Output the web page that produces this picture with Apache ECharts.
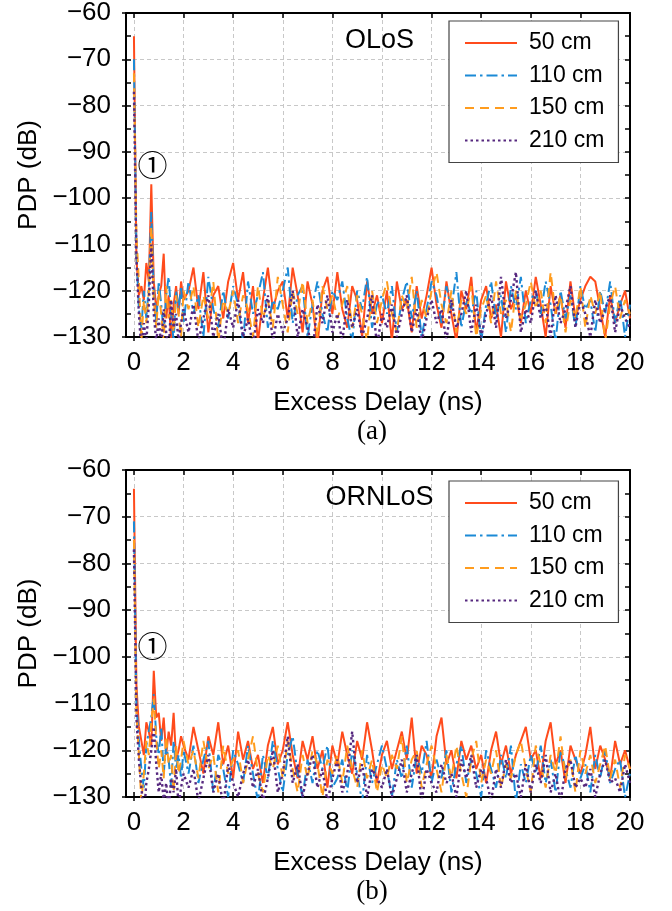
<!DOCTYPE html>
<html>
<head>
<meta charset="utf-8">
<script src="https://cdn.jsdelivr.net/npm/echarts@6/dist/echarts.min.js"></script>
<style>
  html, body { margin: 0; padding: 0; background: #fff; }
  #chart { width: 672px; height: 911px; }
</style>
</head>
<body>
<div id="chart"></div>
<script>
// ---- data ----
const seriesNames = ['50 cm', '110 cm', '150 cm', '210 cm'];
const xTicks = [0, 2, 4, 6, 8, 10, 12, 14, 16, 18, 20];
const panelLabels = ['OLoS', 'ORNLoS'];
const captions = ['(a)', '(b)'];

// sample delays (ns): 0.1 ns steps up to 2 ns, then 0.2 ns steps to 20 ns
const delayNs = [];
for (let i = 0; i <= 20; i++) delayNs.push(+(i * 0.1).toFixed(1));
for (let i = 1; i <= 90; i++) delayNs.push(+(2 + i * 0.2).toFixed(1));

// (a) OLoS PDP (dB)
const olos50 = [
  -65, -113, -121, -119, -122, -114, -118, -97, -118, -124, -121, -119, -112, -126, -121, -131, -123, -119, -125, -118, -122,
  -120, -115, -124, -116, -129, -121, -119, -126, -118, -114,
  -122, -116, -127, -119, -131, -122, -115, -124, -120, -118,
  -126, -115, -121, -129, -118, -123, -132, -120, -117, -125,
  -116, -124, -128, -119, -122, -130, -118, -125, -121, -127,
  -120, -131, -118, -124, -122, -129, -119, -126, -121, -115,
  -123, -128, -118, -125, -131, -120, -124, -117, -129, -122,
  -119, -126, -123, -130, -118, -124, -121, -127, -120, -125,
  -117, -123, -130, -119, -125, -121, -128, -118, -126, -122,
  -119, -117, -118, -124, -130, -121, -127, -123, -120, -126
];
const olos110 = [
  -70, -112, -124, -128, -120, -126, -119, -103, -120, -127, -118, -123, -129, -121, -117, -125, -131, -120, -124, -119, -127,
  -118, -125, -121, -130, -117, -124, -128, -120, -126, -119,
  -123, -131, -118, -125, -121, -116, -128, -122, -124, -120,
  -115, -127, -121, -119, -130, -123, -118, -125, -129, -120,
  -122, -118, -126, -131, -120, -124, -117, -128, -123, -121,
  -125, -119, -129, -122, -118, -126, -120, -130, -124, -118,
  -121, -127, -119, -124, -116, -128, -122, -125, -120, -131,
  -123, -118, -126, -121, -129, -119, -124, -117, -127, -122,
  -120, -125, -118, -123, -131, -120, -126, -121, -128, -119,
  -124, -122, -129, -120, -125, -118, -127, -121, -130, -123
];
const olos150 = [
  -73, -108, -118, -131, -122, -127, -120, -106, -122, -128, -120, -125, -131, -119, -126, -122, -129, -121, -125, -130, -120,
  -124, -119, -128, -121, -126, -118, -131, -122, -125, -120,
  -127, -121, -124, -130, -119, -126, -122, -128, -117, -123,
  -129, -120, -125, -118, -127, -122, -130, -119, -124, -121,
  -126, -123, -119, -128, -121, -125, -131, -120, -127, -122,
  -118, -125, -129, -121, -124, -117, -128, -122, -126, -120,
  -116, -123, -127, -120, -129, -122, -125, -119, -130, -124,
  -121, -127, -118, -125, -122, -129, -120, -126, -123, -118,
  -124, -120, -127, -116, -125, -121, -129, -122, -126, -119,
  -128, -121, -125, -120, -131, -123, -119, -126, -122, -125
];
const olos210 = [
  -77, -113, -125, -133, -127, -131, -123, -110, -125, -131, -126, -132, -124, -129, -134, -122, -128, -125, -131, -127, -124,
  -129, -123, -131, -126, -121, -130, -125, -133, -124, -128,
  -122, -130, -126, -132, -124, -127, -121, -131, -125, -129,
  -126, -120, -130, -124, -128, -133, -123, -127, -121, -129,
  -125, -131, -122, -128, -124, -130, -126, -121, -132, -125,
  -128, -123, -130, -125, -121, -129, -124, -131, -126, -122,
  -127, -124, -131, -122, -128, -125, -120, -129, -123, -130,
  -125, -121, -128, -117, -126, -122, -116, -129, -124, -127,
  -120, -126, -123, -130, -121, -127, -124, -119, -128, -122,
  -125, -130, -122, -127, -124, -121, -129, -123, -126, -128
];

// (b) ORNLoS PDP (dB)
const ornlos50 = [
  -64, -106, -115, -118, -121, -114, -116, -119, -103, -113, -112, -118, -113, -121, -116, -119, -112, -122, -120, -117, -119,
  -122, -115, -120, -125, -117, -121, -114, -123, -119, -126,
  -116, -122, -118, -124, -121, -127, -119, -115, -123, -120,
  -114, -121, -126, -118, -122, -117, -124, -120, -128, -119,
  -123, -116, -121, -125, -118, -122, -114, -120, -127, -121,
  -118, -124, -120, -116, -122, -113, -125, -119, -121, -126,
  -117, -113, -123, -120, -126, -118, -122, -119, -124, -121,
  -127, -120, -116, -123, -119, -125, -121, -118, -115, -122,
  -120, -126, -118, -114, -123, -120, -127, -119, -122, -125,
  -121, -115, -124, -119, -122, -126, -118, -123, -120, -124
];
const ornlos110 = [
  -71, -110, -118, -124, -128, -119, -116, -113, -108, -117, -121, -115, -125, -119, -122, -128, -118, -124, -121, -126, -120,
  -125, -119, -127, -122, -118, -129, -121, -124, -130, -120,
  -123, -127, -119, -125, -131, -121, -126, -118, -124, -129,
  -121, -117, -125, -130, -122, -127, -120, -124, -119, -128,
  -126, -122, -129, -120, -125, -131, -121, -127, -123, -119,
  -124, -130, -122, -126, -119, -128, -121, -125, -118, -127,
  -122, -126, -120, -129, -123, -119, -127, -122, -125, -130,
  -120, -124, -128, -121, -126, -119, -131, -123, -127, -121,
  -125, -119, -127, -122, -129, -120, -124, -128, -121, -126,
  -123, -129, -121, -126, -120, -127, -124, -122, -130, -125
];
const ornlos150 = [
  -75, -112, -121, -131, -125, -118, -121, -114, -109, -118, -124, -120, -126, -117, -123, -121, -129, -119, -125, -122, -118,
  -123, -120, -126, -118, -124, -121, -129, -119, -125, -122,
  -120, -127, -122, -117, -125, -129, -121, -124, -119, -126,
  -118, -124, -129, -121, -126, -120, -123, -130, -122, -125,
  -121, -127, -119, -124, -128, -120, -126, -122, -129, -123,
  -126, -121, -124, -117, -127, -122, -120, -128, -123, -119,
  -124, -129, -121, -126, -119, -125, -130, -122, -118, -127,
  -122, -125, -120, -128, -123, -126, -121, -118, -124, -129,
  -119, -123, -128, -121, -125, -117, -126, -122, -129, -120,
  -125, -121, -127, -123, -119, -126, -122, -128, -121, -124
];
const ornlos210 = [
  -77, -113, -122, -128, -134, -127, -124, -120, -115, -123, -129, -125, -131, -127, -133, -126, -129, -124, -132, -128, -125,
  -128, -124, -131, -126, -121, -129, -125, -132, -123, -127,
  -130, -125, -122, -128, -124, -131, -126, -120, -129, -125,
  -117, -127, -123, -130, -125, -121, -128, -124, -131, -126,
  -122, -129, -125, -116, -127, -123, -130, -124, -126, -128,
  -124, -130, -126, -122, -129, -125, -121, -131, -124, -127,
  -129, -123, -127, -125, -130, -122, -126, -121, -128, -124,
  -126, -131, -124, -128, -122, -127, -125, -130, -123, -129,
  -123, -127, -121, -129, -125, -131, -124, -122, -128, -126,
  -128, -124, -130, -125, -122, -127, -126, -129, -123, -127
];

// annotation anchors (data coordinates: ns, dB)
const markerPos = [[0.75, -92.8], [0.75, -97.5]];
const panelLabelPos = [[9.9, -66], [9.9, -66]];

// ---- chart ----
const panels = [
  [olos50, olos110, olos150, olos210],
  [ornlos50, ornlos110, ornlos150, ornlos210]
];
const colors = ['#ff4b1c', '#1b8ad6', '#ff9c1e', '#56287f'];
const dashes = ['solid', [11, 4, 2.5, 4], [9, 6], [2.5, 3]];
const widths = [2, 2, 2, 2.4];
const FONT = '"Liberation Sans", Arial, Helvetica, sans-serif';
const minus = v => String(v).replace('-', '\u2212');

const gridTops = [10, 470];
const grids = gridTops.map(t => ({ left: 126, width: 504, top: t, height: 327 }));

const xAxes = [], yAxes = [], series = [], legends = [];
gridTops.forEach((t, g) => {
  // main bottom axis
  xAxes.push({
    type: 'value', gridIndex: g, min: -0.32, max: 20, position: 'bottom',
    axisLine: { show: true, onZero: false, lineStyle: { color: '#000', width: 2 } },
    axisTick: { show: true, inside: false, length: 4, customValues: xTicks, lineStyle: { color: '#000', width: 1.5 } },
    axisLabel: { show: true, customValues: xTicks, margin: 13, color: '#000', fontSize: 26, fontFamily: FONT },
    splitLine: { show: true, lineStyle: { color: '#c8c8c8', type: [4, 3], width: 1 } },
    name: 'Excess Delay (ns)', nameLocation: 'middle', nameGap: 53,
    nameTextStyle: { color: '#000', fontSize: 26, fontFamily: FONT }
  });
  // inward ticks bottom
  xAxes.push({
    type: 'value', gridIndex: g, min: -0.32, max: 20, position: 'bottom',
    axisLine: { show: false, onZero: false },
    axisTick: { show: true, inside: true, length: 5, customValues: xTicks, lineStyle: { color: '#000', width: 1.5 } },
    axisLabel: { show: false }, splitLine: { show: false }
  });
  // top frame
  xAxes.push({
    type: 'value', gridIndex: g, min: -0.32, max: 20, position: 'top',
    axisLine: { show: true, onZero: false, lineStyle: { color: '#000', width: 2 } },
    axisTick: { show: true, inside: true, length: 5, customValues: xTicks, lineStyle: { color: '#000', width: 1.5 } },
    axisLabel: { show: false }, splitLine: { show: false }
  });
  yAxes.push({
    type: 'value', gridIndex: g, min: -130, max: -60, interval: 10, position: 'left',
    axisLine: { show: true, onZero: false, lineStyle: { color: '#000', width: 2 } },
    axisTick: { show: true, inside: false, length: 4, lineStyle: { color: '#000', width: 1.5 } },
    axisLabel: { margin: 15, color: '#000', fontSize: 26, fontFamily: FONT, formatter: minus },
    splitLine: { show: true, lineStyle: { color: '#c8c8c8', type: [4, 3], width: 1 } },
    name: 'PDP (dB)', nameLocation: 'middle', nameGap: 84,
    nameTextStyle: { color: '#000', fontSize: 26, fontFamily: FONT }
  });
  yAxes.push({
    type: 'value', gridIndex: g, min: -130, max: -60, interval: 10, position: 'left',
    axisLine: { show: false, onZero: false },
    axisTick: { show: true, inside: true, length: 5, lineStyle: { color: '#000', width: 1.5 } },
    minorTick: { show: true, splitNumber: 2, length: 5, lineStyle: { color: '#000', width: 1.5 } },
    axisLabel: { show: false }, splitLine: { show: false }
  });
  yAxes.push({
    type: 'value', gridIndex: g, min: -130, max: -60, interval: 10, position: 'right',
    axisLine: { show: true, onZero: false, lineStyle: { color: '#000', width: 2 } },
    axisTick: { show: true, inside: true, length: 5, lineStyle: { color: '#000', width: 1.5 } },
    minorTick: { show: true, splitNumber: 2, length: 5, lineStyle: { color: '#000', width: 1.5 } },
    axisLabel: { show: false }, splitLine: { show: false }
  });

  panels[g].forEach((vals, k) => {
    const s = {
      name: seriesNames[k], type: 'line', xAxisIndex: g * 3, yAxisIndex: g * 3,
      data: delayNs.map((d, i) => [d, vals[i]]),
      symbol: 'none', clip: true,
      lineStyle: { color: colors[k], width: widths[k], type: dashes[k] },
      itemStyle: { color: colors[k] },
      z: 2 + k
    };
    if (k === 0) {
      s.markPoint = {
        symbol: 'circle', symbolSize: 1, itemStyle: { color: 'rgba(0,0,0,0)' },
        silent: true,
        data: [
          { name: '\u2460', coord: markerPos[g],
            label: { show: true, position: 'inside', formatter: '{b}', color: '#000',
                     fontSize: 30, fontFamily: '"Noto Sans CJK SC", "DejaVu Sans", sans-serif' } },
          { name: panelLabels[g], coord: panelLabelPos[g],
            label: { show: true, position: 'inside', formatter: '{b}', color: '#000',
                     fontSize: 27, fontFamily: FONT } }
        ]
      };
    }
    series.push(s);
  });

  legends.push({
    orient: 'vertical', left: 449, top: t + 11,
    data: seriesNames,
    padding: [10, 14, 10, 15],
    itemWidth: 52, itemHeight: 14, itemGap: 8.5,
    itemStyle: { opacity: 0 },
    backgroundColor: '#fff', borderColor: '#444', borderWidth: 1.2, borderRadius: 0,
    textStyle: { color: '#000', fontSize: 23, fontFamily: FONT, lineHeight: 24, padding: [0, 0, 0, 7] },
    selectedMode: false
  });
});

const chart = echarts.init(document.getElementById('chart'), null, { renderer: 'canvas' });
chart.setOption({
  animation: false,
  backgroundColor: '#fff',
  grid: grids,
  xAxis: xAxes,
  yAxis: yAxes,
  legend: legends,
  series: series,
  graphic: captions.map((c, g) => ({
    type: 'text', x: 372, y: g === 0 ? 432 : 892,
    style: { text: c, fill: '#000', font: '27px "Liberation Serif", "Times New Roman", serif',
             align: 'center', verticalAlign: 'middle' }
  }))
});
</script>
</body>
</html>
